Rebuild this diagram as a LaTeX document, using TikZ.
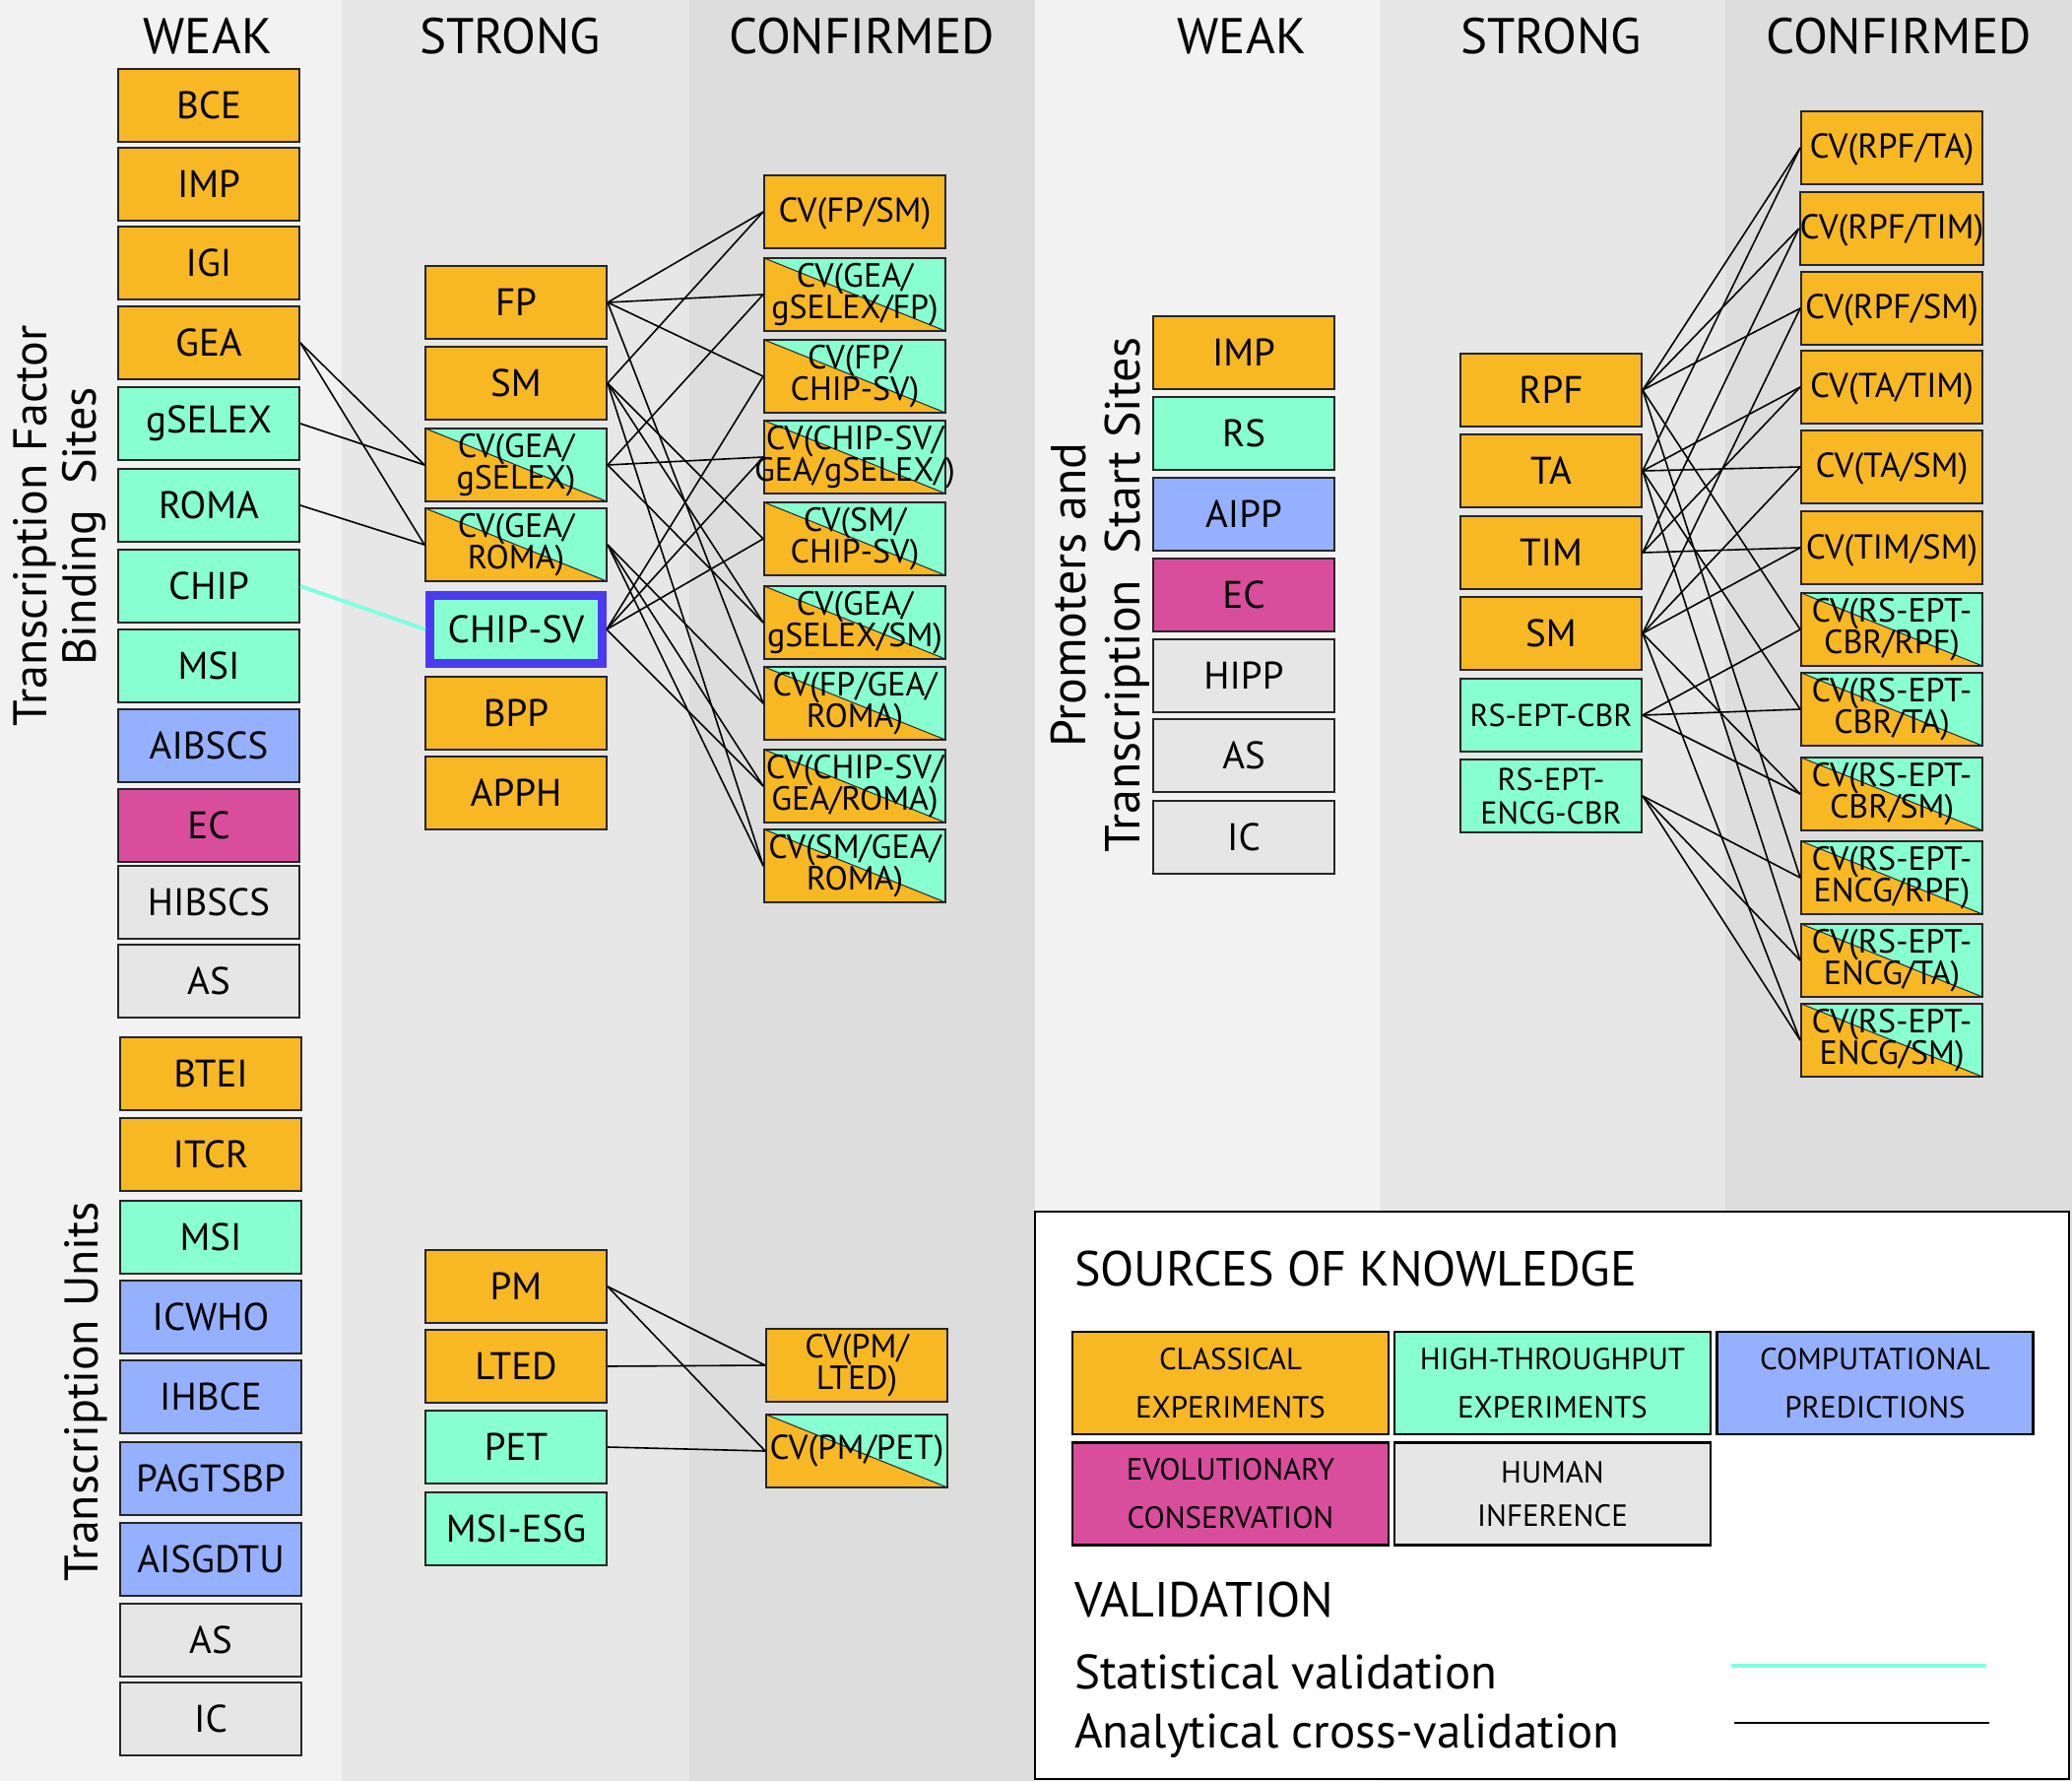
\documentclass[tikz,border=0pt]{standalone}
\usepackage{fontspec}
\setmainfont{PT Sans}
\definecolor{corange}{HTML}{F8B823}
\definecolor{cmint}{HTML}{88FFD0}
\definecolor{cblue}{HTML}{95B0FF}
\definecolor{cmag}{HTML}{D94E9C}
\definecolor{cgray}{HTML}{E6E6E6}
\definecolor{bgA}{HTML}{F2F2F2}
\definecolor{bgB}{HTML}{E7E7E7}
\definecolor{bgC}{HTML}{DDDDDD}
\definecolor{chipblue}{HTML}{4B3BF0}
\definecolor{valcyan}{HTML}{80FFE0}
\definecolor{edge}{HTML}{262626}
\begin{document}
\begin{tikzpicture}[x=0.5pt,y=-0.5pt,
  box/.style={draw=edge, line width=1pt, minimum width=92pt, minimum height=37pt,
    inner sep=0pt, align=center, font=\fontsize{19.5}{19.5}\selectfont},
  cvf/.style={font=\fontsize{17}{16}\selectfont},
  cvone/.style={font=\fontsize{17.5}{17.5}\selectfont, text height=14pt, text depth=3pt},
  smallf/.style={font=\fontsize{16}{17}\selectfont},
  ora/.style={box, fill=corange},
  min/.style={box, fill=cmint},
  blu/.style={box, fill=cblue},
  mag/.style={box, fill=cmag},
  gry/.style={box, fill=cgray},
  split/.style={box, cvf, fill=corange,
    path picture={\fill[cmint] (path picture bounding box.north west) -- (path picture bounding box.north east) -- (path picture bounding box.south east) -- cycle;
      \draw[line width=0.5pt] (path picture bounding box.north west) -- (path picture bounding box.south east);}},
  chipsv/.style={box, fill=cmint, draw=chipblue, line width=4.5pt, minimum width=87.5pt, minimum height=34.5pt},
  conn/.style={line width=0.8pt, black},
  valid/.style={line width=2pt, valcyan},
  head/.style={anchor=base, font=\fontsize{25.5}{25.5}\selectfont},
  side/.style={rotate=90, align=center},
  legbox/.style={draw=black, line width=1.3pt, minimum width=160.5pt, minimum height=52pt, inner sep=0pt, align=center, font=\fontsize{15.5}{24.5}\selectfont},
  legtext/.style={anchor=base west, font=\fontsize{25}{25}\selectfont},
  legsmall/.style={anchor=base west, font=\fontsize{24.5}{24.5}\selectfont}
]
\useasboundingbox (0,0) rectangle (2104,1808);
% column backgrounds
\fill[bgA] (0,0) rectangle (347,1808);
\fill[bgB] (347,0) rectangle (700,1808);
\fill[bgC] (700,0) rectangle (1051,1808);
\fill[bgA] (1051,0) rectangle (1401,1808);
\fill[bgB] (1401,0) rectangle (1752,1808);
\fill[bgC] (1752,0) rectangle (2104,1808);

% headers
\node[head] (h1) at (211,55) {WEAK};
\node[head] (h2) at (518,55) {STRONG};
\node[head] (h3) at (875,55) {CONFIRMED};
\node[head] (h4) at (1261,55) {WEAK};
\node[head] (h5) at (1575,55) {STRONG};
\node[head] (h6) at (1928,55) {CONFIRMED};

% side labels
\node[side, font=\fontsize{24}{25}\selectfont] (lab1) at (61,534) {Transcription Factor\\Binding\ \ Sites};
\node[side, font=\fontsize{24}{25}\selectfont] (lab2) at (87,1413) {Transcription Units};
\node[side, font=\fontsize{25}{27.5}\selectfont] (lab3) at (1117,604) {Promoters and\\Transcription\ \ Start Sites};

% TFBS weak
\node[ora] (tBCE) at (212,107) {BCE};
\node[ora] (tIMP) at (212,187) {IMP};
\node[ora] (tIGI) at (212,267) {IGI};
\node[ora] (tGEA) at (212,348) {GEA};
\node[min] (tgSELEX) at (212,430) {gSELEX};
\node[min] (tROMA) at (212,513) {ROMA};
\node[min] (tCHIP) at (212,595) {CHIP};
\node[min] (tMSI) at (212,676) {MSI};
\node[blu] (tAIBSCS) at (212,757) {AIBSCS};
\node[mag] (tEC) at (212,838) {EC};
\node[gry] (tHIBSCS) at (212,916) {HIBSCS};
\node[gry] (tAS) at (212,996) {AS};

% TU weak
\node[ora] (uBTEI) at (214,1090) {BTEI};
\node[ora] (uITCR) at (214,1172) {ITCR};
\node[min] (uMSI) at (214,1256) {MSI};
\node[blu] (uICWHO) at (214,1337) {ICWHO};
\node[blu] (uIHBCE) at (214,1418) {IHBCE};
\node[blu] (uPAGTSBP) at (214,1501) {PAGTSBP};
\node[blu] (uAISGDTU) at (214,1583) {AISGDTU};
\node[gry] (uAS) at (214,1665) {AS};
\node[gry] (uIC) at (214,1745) {IC};

% TFBS strong
\node[ora] (sFP) at (524,307) {FP};
\node[ora] (sSM) at (524,389) {SM};
\node[split] (sCVGS) at (524,472) {CV(GEA/\\gSELEX)};
\node[split] (sCVGR) at (524,553) {CV(GEA/\\ROMA)};
\node[chipsv] (sCHIPSV) at (524,639) {CHIP-SV};
\node[ora] (sBPP) at (524,724) {BPP};
\node[ora] (sAPPH) at (524,805) {APPH};

% TFBS confirmed
\node[ora, cvone] (c1) at (868,215) {CV(FP/SM)};
\node[split] (c2) at (868,299) {CV(GEA/\\gSELEX/FP)};
\node[split] (c3) at (868,382) {CV(FP/\\CHIP-SV)};
\node[split] (c4) at (868,464) {\makebox[84pt][c]{CV(CHIP-SV/}\\\makebox[84pt][c]{GEA/gSELEX/)}};
\node[split] (c5) at (868,547) {CV(SM/\\CHIP-SV)};
\node[split] (c6) at (868,632) {CV(GEA/\\gSELEX/SM)};
\node[split] (c7) at (868,714) {CV(FP/GEA/\\ROMA)};
\node[split] (c8) at (868,798) {CV(CHIP-SV/\\GEA/ROMA)};
\node[split] (c9) at (868,879) {CV(SM/GEA/\\ROMA)};

% TU strong
\node[ora] (sPM) at (524,1306) {PM};
\node[ora] (sLTED) at (524,1387) {LTED};
\node[min] (sPET) at (524,1469) {PET};
\node[min] (sMSIESG) at (524,1552) {MSI-ESG};

% TU confirmed
\node[ora, cvf] (cPL) at (870,1386) {CV(PM/\\LTED)};
\node[split, font=\fontsize{17.5}{17.5}\selectfont] (cPP) at (870,1473) {CV(PM/PET)};

% Promoters weak
\node[ora] (pIMP) at (1263,358) {IMP};
\node[min] (pRS) at (1263,440) {RS};
\node[blu] (pAIPP) at (1263,522) {AIPP};
\node[mag] (pEC) at (1263,604) {EC};
\node[gry] (pHIPP) at (1263,686) {HIPP};
\node[gry] (pAS) at (1263,767) {AS};
\node[gry] (pIC) at (1263,850) {IC};

% Promoters strong
\node[ora] (qRPF) at (1575,396) {RPF};
\node[ora] (qTA) at (1575,478) {TA};
\node[ora] (qTIM) at (1575,561) {TIM};
\node[ora] (qSM) at (1575,643) {SM};
\node[min, smallf] (qRSCBR) at (1575,726) {RS-EPT-CBR};
\node[min, smallf] (qRSENCG) at (1575,808) {RS-EPT-\\ENCG-CBR};

% Promoters confirmed
\node[ora, cvone] (r1) at (1921,150) {CV(RPF/TA)};
\node[ora, cvone] (r2) at (1921,232) {CV(RPF/TIM)};
\node[ora, cvone] (r3) at (1921,313) {CV(RPF/SM)};
\node[ora, cvone] (r4) at (1921,393) {CV(TA/TIM)};
\node[ora, cvone] (r5) at (1921,474) {CV(TA/SM)};
\node[ora, cvone] (r6) at (1921,556) {CV(TIM/SM)};
\node[split] (r7) at (1921,639) {CV(RS-EPT-\\CBR/RPF)};
\node[split] (r8) at (1921,720) {CV(RS-EPT-\\CBR/TA)};
\node[split] (r9) at (1921,806) {CV(RS-EPT-\\CBR/SM)};
\node[split] (r10) at (1921,891) {CV(RS-EPT-\\ENCG/RPF)};
\node[split] (r11) at (1921,975) {CV(RS-EPT-\\ENCG/TA)};
\node[split] (r12) at (1921,1056) {CV(RS-EPT-\\ENCG/SM)};

% connectors TFBS
\draw[conn] (tGEA.east) -- (sCVGS.west);
\draw[conn] (tGEA.east) -- (sCVGR.west);
\draw[conn] (tgSELEX.east) -- (sCVGS.west);
\draw[conn] (tROMA.east) -- (sCVGR.west);
\draw[valid] (tCHIP.east) -- (sCHIPSV.west);
\foreach \t in {c1,c2,c3,c7} \draw[conn] (sFP.east) -- (\t.west);
\foreach \t in {c1,c5,c6,c9} \draw[conn] (sSM.east) -- (\t.west);
\foreach \t in {c2,c4,c6} \draw[conn] (sCVGS.east) -- (\t.west);
\foreach \t in {c7,c8,c9} \draw[conn] (sCVGR.east) -- (\t.west);
\foreach \t in {c3,c4,c5,c8} \draw[conn] (sCHIPSV.east) -- (\t.west);
% connectors TU
\draw[conn] (sPM.east) -- (cPL.west);
\draw[conn] (sPM.east) -- (cPP.west);
\draw[conn] (sLTED.east) -- (cPL.west);
\draw[conn] (sPET.east) -- (cPP.west);
% connectors promoters
\foreach \t in {r1,r2,r3,r7,r10} \draw[conn] (qRPF.east) -- (\t.west);
\foreach \t in {r1,r4,r5,r8,r11} \draw[conn] (qTA.east) -- (\t.west);
\foreach \t in {r2,r4,r6} \draw[conn] (qTIM.east) -- (\t.west);
\foreach \t in {r3,r5,r6,r9,r12} \draw[conn] (qSM.east) -- (\t.west);
\foreach \t in {r7,r8,r9} \draw[conn] (qRSCBR.east) -- (\t.west);
\foreach \t in {r10,r11,r12} \draw[conn] (qRSENCG.east) -- (\t.west);

% legend
\draw[fill=white, line width=1pt] (1051,1230) rectangle (2101,1806);
\node[legtext] (lsrc) at (1084,1305) {SOURCES OF KNOWLEDGE};
\node[legbox, fill=corange] (lb1) at (1249.5,1404) {CLASSICAL\\EXPERIMENTS};
\node[legbox, fill=cmint] (lb2) at (1576.5,1404) {HIGH-THROUGHPUT\\EXPERIMENTS};
\node[legbox, fill=cblue] (lb3) at (1904,1404) {COMPUTATIONAL\\PREDICTIONS};
\node[legbox, fill=cmag] (lb4) at (1249.5,1516.5) {EVOLUTIONARY\\CONSERVATION};
\node[legbox, fill=cgray, font=\fontsize{15.5}{22}\selectfont] (lb5) at (1576.5,1516.5) {HUMAN\\INFERENCE};
\node[legtext] (lval) at (1084,1641) {VALIDATION};
\node[legsmall] (lstat) at (1084,1714) {Statistical validation};
\node[legsmall] (lana) at (1084,1774) {Analytical cross-validation};
\coordinate (vs1) at (1758,1691);
\coordinate (vs2) at (2017,1691);
\coordinate (va1) at (1761,1749);
\coordinate (va2) at (2020,1749);
\draw[valid] (vs1) -- (vs2);
\draw[line width=0.8pt] (va1) -- (va2);
\end{tikzpicture}
\end{document}
